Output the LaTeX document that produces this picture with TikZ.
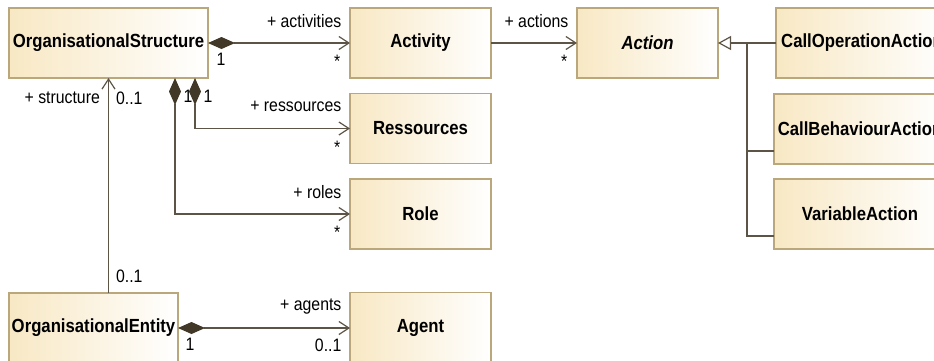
\documentclass[tikz,border=0pt]{standalone}
\usepackage{fontspec}
\setmainfont{Liberation Sans}[FakeStretch=0.88]
\usepackage{tikz}
\usetikzlibrary{arrows.meta,positioning,calc}
\definecolor{umlfill}{RGB}{248,232,196}
\definecolor{umlborder}{RGB}{187,167,124}
\definecolor{umlline}{RGB}{92,84,70}
\definecolor{umldark}{RGB}{66,56,40}
\newcommand{\classfont}{\fontsize{19}{22}\selectfont\bfseries}
\newcommand{\lblfont}{\fontsize{18}{21}\selectfont}

\begin{document}
\begin{tikzpicture}[
  x=1pt, y=-1pt,
  umlclass/.style={draw=umlborder, line width=1.3pt, left color=umlfill, right color=white, minimum height=70pt, inner sep=0pt, outer sep=0pt, font=\classfont},
  lbl/.style={font=\lblfont, inner sep=0pt, text=black},
  assoc/.style={draw=umlline, line width=1.2pt, -{Straight Barb[length=10pt,width=13pt]}},
  comp/.style={draw=umlline, line width=1.2pt, {Diamond[length=27pt,width=12pt,color=umldark,fill=umldark]}-{Straight Barb[length=10pt,width=13pt]}},
  inh/.style={draw=umlline, line width=1.2pt}
]
\useasboundingbox (0,0) rectangle (934,360);

\node[umlclass, minimum width=199pt] (orgstruct) at (108.5,43) {OrganisationalStructure};
\node[umlclass, minimum width=141pt] (activity) at (420.5,43) {Activity};
\node[umlclass, minimum width=141pt, below=15.5pt of activity] (ressources) {Ressources};
\node[umlclass, minimum width=141pt, below=15.5pt of ressources] (role) {Role};
\node[umlclass, minimum width=141pt, below=43.5pt of role] (agent) {Agent};
\node[umlclass, minimum width=169pt] (orgentity) at (93.5,328) {OrganisationalEntity};
\node[umlclass, minimum width=141pt] (action) at (647.5,43) {\textit{Action}};
\node[umlclass, minimum width=172pt] (callop) at (862,43) {CallOperationAction};
\node[umlclass, minimum width=172pt] (callbeh) at (860,129) {CallBehaviourAction};
\node[umlclass, minimum width=172pt] (varaction) at (860,214) {VariableAction};

\draw[comp] (orgstruct.east) -- (activity.west)
  node[lbl, pos=1, anchor=base east, xshift=-8pt, yshift=16pt] {+ activities}
  node[lbl, pos=1, anchor=north east, xshift=-9pt, yshift=-12pt] {*}
  node[lbl, pos=0, anchor=north west, xshift=8pt, yshift=-10pt] {1};
\draw[assoc] (activity.east) -- (action.west)
  node[lbl, pos=1, anchor=base east, xshift=-8pt, yshift=16pt] {+ actions}
  node[lbl, pos=1, anchor=north east, xshift=-9pt, yshift=-12pt] {*};
\draw[comp] ([xshift=-13pt]orgstruct.south east) |- (ressources.west)
  node[lbl, pos=1, anchor=base east, xshift=-8pt, yshift=17pt] {+ ressources}
  node[lbl, pos=1, anchor=north east, xshift=-9pt, yshift=-12pt] {*}
  node[lbl, pos=0, anchor=north west, xshift=8pt, yshift=-12pt] {1};
\draw[comp] ([xshift=-33pt]orgstruct.south east) |- (role.west)
  node[lbl, pos=1, anchor=base east, xshift=-8pt, yshift=16pt] {+ roles}
  node[lbl, pos=1, anchor=north east, xshift=-9pt, yshift=-12pt] {*}
  node[lbl, pos=0, anchor=north west, xshift=8pt, yshift=-12pt] {1};
\draw[assoc] (orgentity.north -| orgstruct.south) -- (orgstruct.south)
  node[lbl, pos=1, anchor=north east, xshift=-8pt, yshift=-13pt] {+ structure}
  node[lbl, pos=1, anchor=north west, xshift=7pt, yshift=-13pt] {0..1}
  node[lbl, pos=0, anchor=south west, xshift=7pt, yshift=10pt] {0..1};
\draw[comp] (orgentity.east) -- (orgentity.east -| agent.west)
  node[lbl, pos=1, anchor=base east, xshift=-8pt, yshift=18pt] {+ agents}
  node[lbl, pos=1, anchor=north east, xshift=-8pt, yshift=-10pt] {0..1}
  node[lbl, pos=0, anchor=north west, xshift=7pt, yshift=-10pt] {1};

\coordinate (fork) at ($(action.east)!0.5!(callop.west)$);
\draw[inh, -{Triangle[open,length=13pt,width=14pt,fill=white]}] (callop.west) -- (action.east);
\draw[inh] ([yshift=13pt]callbeh.south west) -| (fork);
\draw[inh] ([yshift=13pt]varaction.south west) -| (fork);
\end{tikzpicture}
\end{document}
